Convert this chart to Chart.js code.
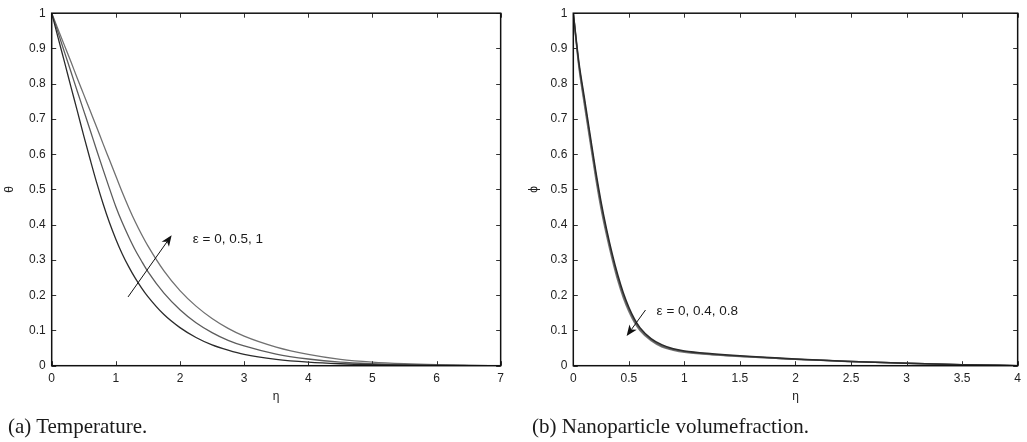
<!DOCTYPE html>
<html lang="en">
<head>
    <meta charset="UTF-8">
    <title>Temperature and nanoparticle volume fraction profiles</title>
    <script src="https://cdn.jsdelivr.net/npm/chart.js"></script>
    <style>
        body { margin: 0; background: #fff; width: 1027px; height: 442px; position: relative; overflow: hidden; }
        canvas { position: absolute; top: 0; }
        .caption { position: absolute; top: 416px; font-family: "Liberation Serif", "Times New Roman", serif; font-size: 21px; line-height: 1; color: #1a1a1a; white-space: nowrap; }
    </style>
</head>
<body>
    <canvas id="chartA" width="510" height="442" style="left:0"></canvas>
    <canvas id="chartB" width="517" height="442" style="left:510px"></canvas>
    <div class="caption" style="left:8px">(a) Temperature.</div>
    <div class="caption" style="left:532px">(b) Nanoparticle volumefraction.</div>

    <script>
        // (a) temperature profiles, eps = 0, 0.5, 1
        const etaA = [0, 0.1, 0.2, 0.3, 0.4, 0.5, 0.6, 0.7, 0.8, 0.9, 1, 1.1, 1.2, 1.3, 1.4, 1.5, 1.75, 2, 2.25, 2.5, 2.75, 3, 3.5, 4, 4.5, 5, 5.5, 6, 6.5, 7];
        const thetaEps0 = [1, 0.93, 0.861, 0.791, 0.722, 0.652, 0.585, 0.52, 0.46, 0.406, 0.359, 0.317, 0.281, 0.249, 0.221, 0.196, 0.145, 0.108, 0.08, 0.059, 0.044, 0.032, 0.018, 0.01, 0.0055, 0.003, 0.0017, 0.0009, 0.0004, 0];
        const thetaEps05 = [1, 0.945, 0.889, 0.834, 0.778, 0.723, 0.668, 0.612, 0.557, 0.503, 0.451, 0.406, 0.366, 0.329, 0.297, 0.267, 0.206, 0.159, 0.122, 0.094, 0.072, 0.056, 0.033, 0.019, 0.01, 0.0055, 0.003, 0.0015, 0.0006, 0];
        const thetaEps1 = [1, 0.954, 0.908, 0.862, 0.815, 0.769, 0.723, 0.677, 0.63, 0.584, 0.538, 0.492, 0.449, 0.409, 0.373, 0.34, 0.269, 0.213, 0.169, 0.134, 0.106, 0.084, 0.053, 0.032, 0.018, 0.01, 0.0055, 0.0028, 0.0012, 0];

        // (b) nanoparticle volume fraction, eps = 0, 0.4, 0.8
        const etaB = [0, 0.05, 0.1, 0.15, 0.2, 0.25, 0.3, 0.35, 0.4, 0.45, 0.5, 0.55, 0.6, 0.7, 0.8, 0.9, 1, 1.25, 1.5, 2, 2.5, 3, 3.5, 4];
        const phiEps0 = [1, 0.862, 0.76, 0.658, 0.556, 0.465, 0.387, 0.318, 0.258, 0.207, 0.166, 0.133, 0.108, 0.077, 0.059, 0.048, 0.042, 0.034, 0.028, 0.019, 0.012, 0.007, 0.003, 0];
        const phiEps04 = [1, 0.855, 0.75, 0.648, 0.546, 0.455, 0.378, 0.31, 0.25, 0.2, 0.16, 0.128, 0.104, 0.074, 0.056, 0.046, 0.04, 0.032, 0.027, 0.018, 0.012, 0.007, 0.003, 0];
        const phiEps08 = [1, 0.848, 0.74, 0.638, 0.536, 0.445, 0.369, 0.302, 0.242, 0.193, 0.154, 0.123, 0.1, 0.071, 0.053, 0.044, 0.038, 0.031, 0.026, 0.018, 0.012, 0.007, 0.003, 0];

        const sans = '"Liberation Sans", Arial, Helvetica, sans-serif';
        Chart.defaults.font.family = sans;
        Chart.defaults.color = '#222';

        // box round the plot with small ticks pointing inwards (matlab look)
        const framePlugin = {
            id: 'frame',
            afterDatasetsDraw(chart) {
                const { ctx, chartArea: a, scales: { x, y } } = chart;
                ctx.save();
                ctx.strokeStyle = '#333';
                ctx.lineWidth = 1;
                ctx.beginPath();
                x.ticks.forEach(t => {
                    const px = Math.round(x.getPixelForValue(t.value)) + 0.5;
                    ctx.moveTo(px, a.bottom); ctx.lineTo(px, a.bottom - 4.5);
                    ctx.moveTo(px, a.top); ctx.lineTo(px, a.top + 4.5);
                });
                y.ticks.forEach(t => {
                    const py = Math.round(y.getPixelForValue(t.value)) + 0.5;
                    ctx.moveTo(a.left, py); ctx.lineTo(a.left + 4.5, py);
                    ctx.moveTo(a.right, py); ctx.lineTo(a.right - 4.5, py);
                });
                ctx.stroke();
                ctx.strokeStyle = '#111';
                ctx.lineWidth = 1.5;
                ctx.strokeRect(a.left, a.top, a.right - a.left, a.bottom - a.top);
                ctx.restore();
            }
        };

        // arrow + label, positions given in data units
        const notePlugin = {
            id: 'note',
            afterDraw(chart, args, opts) {
                if (!opts.text) return;
                const { ctx, scales: { x, y } } = chart;
                const x0 = x.getPixelForValue(opts.from[0]), y0 = y.getPixelForValue(opts.from[1]);
                const x1 = x.getPixelForValue(opts.to[0]), y1 = y.getPixelForValue(opts.to[1]);
                const len = Math.hypot(x1 - x0, y1 - y0);
                const ux = (x1 - x0) / len, uy = (y1 - y0) / len;
                const nx = -uy, ny = ux;
                const L = 11, W = 4.5, notch = 3;
                ctx.save();
                ctx.strokeStyle = '#111';
                ctx.fillStyle = '#111';
                ctx.lineWidth = 1;
                ctx.beginPath();
                ctx.moveTo(x0, y0);
                ctx.lineTo(x1 - ux * (L - notch), y1 - uy * (L - notch));
                ctx.stroke();
                ctx.beginPath();
                ctx.moveTo(x1, y1);
                ctx.lineTo(x1 - ux * L + nx * W, y1 - uy * L + ny * W);
                ctx.lineTo(x1 - ux * (L - notch), y1 - uy * (L - notch));
                ctx.lineTo(x1 - ux * L - nx * W, y1 - uy * L - ny * W);
                ctx.closePath();
                ctx.fill();
                ctx.font = '13.5px ' + sans;
                ctx.fillStyle = '#1a1a1a';
                ctx.textBaseline = 'middle';
                ctx.textAlign = 'left';
                ctx.fillText(opts.text, x.getPixelForValue(opts.at[0]), y.getPixelForValue(opts.at[1]));
                ctx.restore();
            }
        };

        function pts(xs, ys) {
            return xs.map((v, i) => ({ x: v, y: ys[i] }));
        }

        // matlab style numbers: 1 not 1.0, 0.5 not 0.50
        const plain = v => String(+Number(v).toFixed(2));

        function makeChart(id, cfg) {
            const ctx = document.getElementById(id).getContext('2d');
            return new Chart(ctx, {
                type: 'line',
                data: {
                    datasets: cfg.series.map(s => ({
                        data: s.data,
                        borderColor: s.color,
                        borderWidth: cfg.lineWidth,
                        pointRadius: 0,
                        fill: false,
                        cubicInterpolationMode: 'monotone'
                    }))
                },
                options: {
                    responsive: false,
                    animation: false,
                    events: [],
                    layout: { padding: cfg.padding },
                    plugins: {
                        legend: { display: false },
                        tooltip: { enabled: false },
                        note: cfg.note
                    },
                    scales: {
                        x: {
                            type: 'linear',
                            min: 0,
                            max: cfg.xMax,
                            grid: { display: false, drawTicks: false },
                            border: { display: false },
                            ticks: { stepSize: cfg.xStep, padding: 6, maxRotation: 0, font: { size: 12 }, color: '#222', callback: plain },
                            title: { display: true, text: 'η', font: { size: 12 }, padding: { top: 0, bottom: 0 }, color: '#222' },
                            afterFit: s => { s.height = 38; }
                        },
                        y: {
                            min: 0,
                            max: 1,
                            grid: { display: false, drawTicks: false },
                            border: { display: false },
                            ticks: { stepSize: 0.1, padding: 6, font: { size: 12 }, color: '#222', callback: plain },
                            title: { display: true, text: cfg.yTitle, font: { size: 12 }, padding: { top: cfg.yTitlePad, bottom: 0 }, color: '#222' },
                            afterFit: s => { s.width = cfg.yWidth; }
                        }
                    }
                },
                plugins: [framePlugin, notePlugin]
            });
        }

        makeChart('chartA', {
            series: [
                { data: pts(etaA, thetaEps0), color: '#2b2b2b' },
                { data: pts(etaA, thetaEps05), color: '#5c5c5c' },
                { data: pts(etaA, thetaEps1), color: '#707070' }
            ],
            lineWidth: 1.3,
            xMax: 7,
            xStep: 1,
            yTitle: 'θ',
            yTitlePad: 2.5,
            yWidth: 51.7,
            padding: { left: 0, top: 12.7, right: 9, bottom: 38.3 },
            note: { from: [1.19, 0.195], to: [1.87, 0.37], text: 'ε = 0, 0.5, 1', at: [2.2, 0.358] }
        });

        makeChart('chartB', {
            series: [
                { data: pts(etaB, phiEps0), color: '#2b2b2b' },
                { data: pts(etaB, phiEps04), color: '#5c5c5c' },
                { data: pts(etaB, phiEps08), color: '#7a7a7a' }
            ],
            lineWidth: 1.5,
            xMax: 4,
            xStep: 0.5,
            yTitle: 'ϕ',
            yTitlePad: 16.4,
            yWidth: 63.3,
            padding: { left: 0, top: 12.7, right: 5.5, bottom: 38.3 },
            note: { from: [0.65, 0.158], to: [0.48, 0.084], text: 'ε = 0, 0.4, 0.8', at: [0.75, 0.153] }
        });
    </script>
</body>
</html>
